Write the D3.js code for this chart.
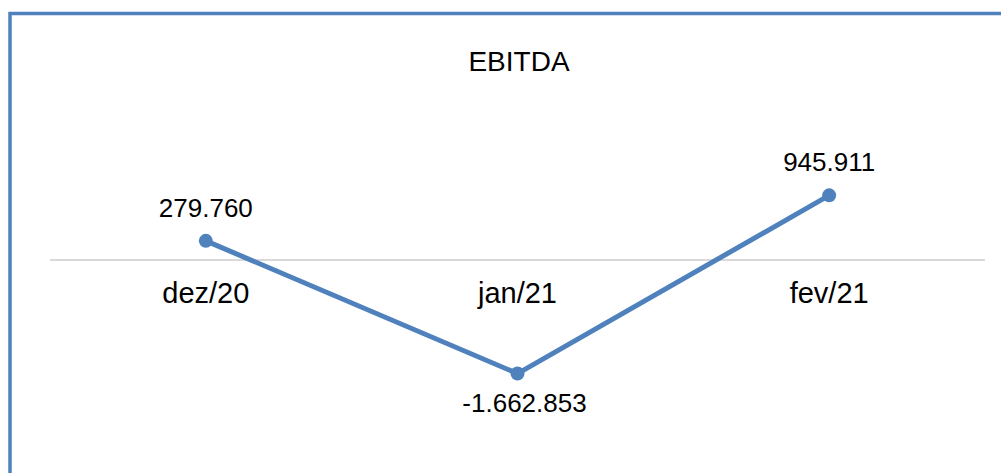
<!DOCTYPE html>
<html>
<head>
<meta charset="utf-8">
<script src="https://cdn.jsdelivr.net/npm/d3@7"></script>
<style>
  html, body { margin: 0; padding: 0; background: #fff; }
  svg { display: block; font-family: "Liberation Sans", Arial, sans-serif; }
</style>
</head>
<body>
<svg class="graph" width="1001" height="473"></svg>
<script>
// data
var categories = ["dez/20", "jan/21", "fev/21"];
var values = [279760, -1662853, 945911];
var labels = ["279.760", "-1.662.853", "945.911"];
var title = "EBITDA";

var width = 1001, height = 473;
var svg = d3.select(".graph");

// frame (clipped on the right and bottom like the source)
svg.append("rect")
  .attr("x", 10).attr("y", 13.5)
  .attr("width", 1100).attr("height", 600)
  .attr("fill", "#fff")
  .attr("stroke", "#4f81bd")
  .attr("stroke-width", 3.5);

var plot = {left: 50, right: 985, top: 157.5, bottom: 396.6};

var x = d3.scaleBand()
  .domain(categories)
  .range([plot.left, plot.right]);

var y = d3.scaleLinear()
  .domain([-2000000, 1500000])
  .range([plot.bottom, plot.top]);

// title
svg.append("text")
  .attr("x", 519).attr("y", 71)
  .attr("text-anchor", "middle")
  .attr("font-size", 28)
  .attr("fill", "#000")
  .text(title);

// zero line
svg.append("line")
  .attr("x1", plot.left).attr("x2", plot.right)
  .attr("y1", y(0)).attr("y2", y(0))
  .attr("stroke", "#d9d9d9")
  .attr("stroke-width", 2);

// category labels
svg.append("g").selectAll("text")
  .data(categories)
  .enter().append("text")
  .attr("x", function (d) { return x(d) + x.bandwidth() / 2; })
  .attr("y", y(0) + 43)
  .attr("text-anchor", "middle")
  .attr("font-size", 29)
  .attr("fill", "#000")
  .text(function (d) { return d; });

var pts = categories.map(function (c, i) {
  return {cat: c, v: values[i], label: labels[i]};
});

var line = d3.line()
  .x(function (d) { return x(d.cat) + x.bandwidth() / 2; })
  .y(function (d) { return y(d.v); });

svg.append("path")
  .datum(pts)
  .attr("d", line)
  .attr("fill", "none")
  .attr("stroke", "#4f81bd")
  .attr("stroke-width", 5)
  .attr("stroke-linejoin", "round");

svg.append("g").selectAll("circle")
  .data(pts)
  .enter().append("circle")
  .attr("cx", function (d) { return x(d.cat) + x.bandwidth() / 2; })
  .attr("cy", function (d) { return y(d.v); })
  .attr("r", 7)
  .attr("fill", "#4f81bd");

// data labels
svg.append("g").selectAll("text")
  .data(pts)
  .enter().append("text")
  .attr("x", function (d) { return x(d.cat) + x.bandwidth() / 2; })
  .attr("dx", function (d) { return d.v >= 0 ? 0 : 7; })
  .attr("y", function (d) { return d.v >= 0 ? y(d.v) - 24 : y(d.v) + 38; })
  .attr("text-anchor", "middle")
  .attr("font-size", 26)
  .attr("fill", "#000")
  .text(function (d) { return d.label; });
</script>
</body>
</html>
